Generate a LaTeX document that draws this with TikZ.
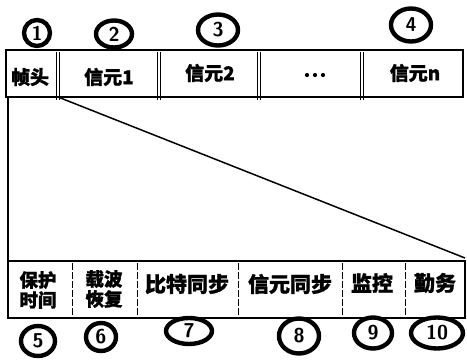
\documentclass[tikz,border=0pt]{standalone}
\usepackage{fontspec}
\newfontfamily\cjk[FakeBold=1.2]{Noto Sans CJK SC}
\usetikzlibrary{shapes.geometric}
\begin{document}
\begin{tikzpicture}[x=1pt,y=-1pt,
  lbl/.style={font=\cjk\bfseries\fontsize{19}{21}\selectfont, inner sep=0pt},
  lblb/.style={font=\cjk\bfseries\fontsize{21}{23}\selectfont, inner sep=0pt},
  lbl2/.style={font=\cjk\bfseries\fontsize{18.5}{20}\selectfont, inner sep=0pt, align=center},
  num/.style={draw, ellipse, line width=4.4pt, inner sep=0pt, font=\sffamily\bfseries\fontsize{20}{20}\selectfont},
  frame/.style={line width=1.5pt},
  dbl/.style={line width=0.9pt},
  thin/.style={line width=0.9pt, dash pattern=on 7pt off 2pt}]
\useasboundingbox (0,0) rectangle (467,364);
% top bar
\draw[frame] (6,50) rectangle (463,97);
\foreach \x in {56,157,257,360}{
  \draw[dbl] (\x,52) -- (\x,100);
  \draw[dbl] (\x+3,52) -- (\x+3,100);
}
\node[lbl] (h) at (30,77) {帧头};
\node[lbl] (c1) at (109,77) {信元1};
\node[lbl] (c2) at (210,73) {信元2};
\coordinate (dots) at (315,75);
\foreach \dx in {-8,0,8}{\fill ([xshift=\dx pt]dots) circle (2.1pt);}
\node[lbl] (cn) at (415,73) {信元n};
% lower
\coordinate (a) at (8,97);
\coordinate (b) at (8,261);
\coordinate (d1) at (58,97);
\coordinate (d2) at (465,258);
\draw[frame] (a) -- (b);
\draw[frame] (d1) -- (d2);
% bottom bar
\draw[frame] (8,261) rectangle (465,318);
\foreach \x in {72,137,238,342,405}{
  \draw[thin] (\x,263) -- (\x,316);
}
\node[lbl2] (p) at (38,290) {保护\\时间};
\node[lbl2] (z) at (104,289) {载波\\恢复};
\node[lblb] (bs) at (187,284) {比特同步};
\node[lblb] (xs) at (290,284) {信元同步};
\node[lblb] (jk) at (372,283) {监控};
\node[lblb] (qw) at (435,283) {勤务};
% circled numbers
\node[num, minimum width=26pt, minimum height=26pt] (n1) at (37,33) {1};
\node[num, minimum width=36pt, minimum height=27pt] (n2) at (114,34) {2};
\node[num, minimum width=40pt, minimum height=31pt] (n3) at (218,30) {3};
\node[num, minimum width=40pt, minimum height=33pt] (n4) at (411,25) {4};
\node[num, minimum width=34pt, minimum height=30pt] (n5) at (38,341) {5};
\node[num, minimum width=30pt, minimum height=28pt] (n6) at (101,337) {6};
\node[num, minimum width=46pt, minimum height=26pt] (n7) at (189,331) {7};
\node[num, minimum width=40pt, minimum height=35pt] (n8) at (299,336) {8};
\node[num, minimum width=38pt, minimum height=31pt] (n9) at (373,333) {9};
\node[num, minimum width=52pt, minimum height=31pt] (n10) at (437,333) {10};
\end{tikzpicture}
\end{document}
